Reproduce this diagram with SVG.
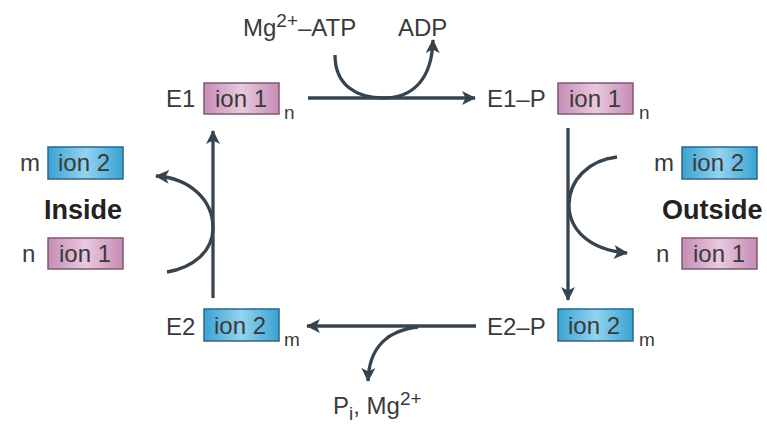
<svg xmlns="http://www.w3.org/2000/svg" width="767" height="425" viewBox="0 0 767 425">
<defs>
<linearGradient id="g1" x1="0" y1="0" x2="1" y2="0">
<stop offset="0" stop-color="#c68cb5"/><stop offset="0.5" stop-color="#e9c9df"/><stop offset="1" stop-color="#c68cb5"/>
</linearGradient>
<linearGradient id="g2" x1="0" y1="0" x2="1" y2="0">
<stop offset="0" stop-color="#3aa2d3"/><stop offset="0.5" stop-color="#93d3ef"/><stop offset="1" stop-color="#3aa2d3"/>
</linearGradient>
<marker id="ah" viewBox="0 0 14 14" refX="13" refY="7" markerWidth="14" markerHeight="14" markerUnits="userSpaceOnUse" orient="auto">
<path d="M0,0 L14,7 L0,14 L3.5,7 Z" fill="#36444f"/>
</marker>
</defs>
<style>
text{font-family:"Liberation Sans",Arial,sans-serif;fill:#3a3a3a;}
.t{font-size:24px;}
.s{font-size:19px;}
.sup{font-size:19px;}
.b{font-size:27px;font-weight:bold;fill:#222;}
.i1{fill:url(#g1);stroke:#7d5a72;stroke-width:1.5;}
.i2{fill:url(#g2);stroke:#2c6684;stroke-width:1.5;}
.c{fill:none;stroke:#36444f;stroke-width:3.3;marker-end:url(#ah);}
</style>
<rect width="767" height="425" fill="#fff"/>
<g id="connectors">
<path class="c" d="M308,98 L475,98"/>
<path class="c" d="M335,55 C335,85 356,98 384,98 C412,98 432,80 433,40"/>
<path class="c" d="M568,128 L568,300"/>
<path class="c" d="M617,157 C589,160 569,180 569,205 C569,230 590,250 627,253"/>
<path class="c" d="M476,326 L307,326"/>
<path class="c" d="M418,327 C390,330 369,345 368,381"/>
<path class="c" d="M213,298 L213,131"/>
<path class="c" d="M167,272 C192,268 213,252 213,228 C213,200 190,178 156,176"/>
</g>
<g id="atp">
<text class="t" x="243" y="36">Mg<tspan class="sup" dy="-9">2+</tspan><tspan dy="9">–ATP</tspan></text>
</g>
<g id="adp"><text class="t" x="398" y="36">ADP</text></g>
<g id="e1">
<text class="t" x="166" y="107">E1</text>
<rect class="i1" x="204" y="83" width="75" height="31"/>
<text class="t" x="215" y="107">ion 1</text>
<text class="s" x="284" y="119">n</text>
</g>
<g id="e1p">
<text class="t" x="487" y="107">E1–P</text>
<rect class="i1" x="558" y="83" width="75" height="31"/>
<text class="t" x="569" y="107">ion 1</text>
<text class="s" x="639" y="119">n</text>
</g>
<g id="e2">
<text class="t" x="166" y="335">E2</text>
<rect class="i2" x="204" y="309" width="75" height="32"/>
<text class="t" x="214" y="334">ion 2</text>
<text class="s" x="284" y="346">m</text>
</g>
<g id="e2p">
<text class="t" x="487" y="335">E2–P</text>
<rect class="i2" x="558" y="309" width="75" height="32"/>
<text class="t" x="568" y="334">ion 2</text>
<text class="s" x="639" y="346">m</text>
</g>
<g id="pi">
<text class="t" x="333" y="414">P<tspan class="sup" dy="6">i</tspan><tspan dy="-6">, Mg</tspan><tspan class="sup" dy="-9">2+</tspan></text>
</g>
<g id="inside">
<text class="t" x="20" y="171">m</text>
<rect class="i2" x="48" y="147" width="75" height="32"/>
<text class="t" x="58" y="171">ion 2</text>
<text class="b" x="44" y="219">Inside</text>
<text class="t" x="22" y="262">n</text>
<rect class="i1" x="48" y="238" width="75" height="31"/>
<text class="t" x="59" y="262">ion 1</text>
</g>
<g id="outside">
<text class="t" x="654" y="171">m</text>
<rect class="i2" x="682" y="147" width="75" height="32"/>
<text class="t" x="692" y="171">ion 2</text>
<text class="b" x="662" y="219">Outside</text>
<text class="t" x="656" y="262">n</text>
<rect class="i1" x="682" y="238" width="75" height="31"/>
<text class="t" x="693" y="262">ion 1</text>
</g>
</svg>
